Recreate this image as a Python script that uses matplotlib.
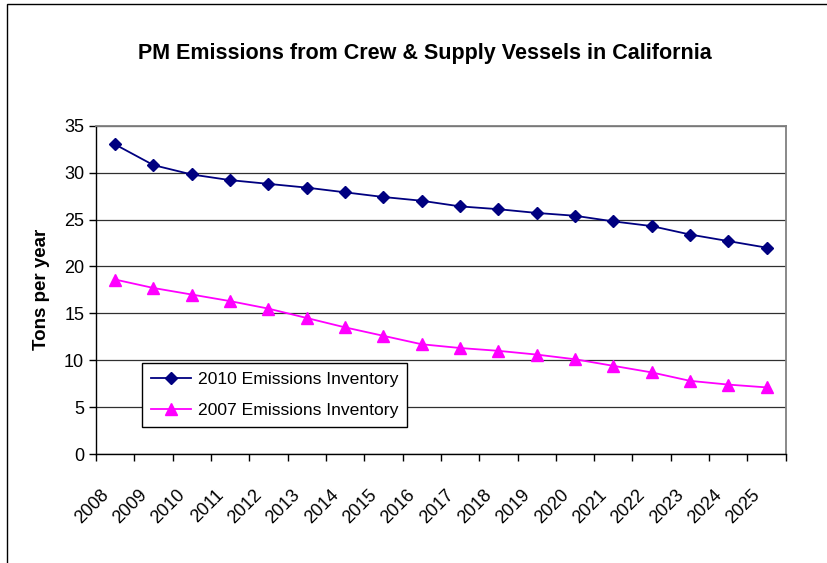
import matplotlib.pyplot as plt
from matplotlib.patches import Rectangle
from matplotlib.transforms import ScaledTranslation
import numpy as np

plt.rcParams['font.family'] = ['Liberation Sans', 'DejaVu Sans']

years = [str(y) for y in range(2008, 2026)]
inv_2010 = [33.0, 30.8, 29.8, 29.2, 28.8, 28.4, 27.9, 27.4, 27.0, 26.4,
            26.1, 25.7, 25.4, 24.8, 24.3, 23.4, 22.7, 22.0]
inv_2007 = [18.6, 17.7, 17.0, 16.3, 15.5, 14.5, 13.5, 12.6, 11.7, 11.3,
            11.0, 10.6, 10.1, 9.4, 8.7, 7.8, 7.4, 7.1]

fig = plt.figure(figsize=(8.28, 5.63), dpi=100)
ax = fig.add_axes([0.1159, 0.1936, 0.949 - 0.1159, 0.7767 - 0.1936])

# outer chart frame
fig.patches.append(Rectangle((7 / 828, -0.05), 1.0, 1.0 - 4 / 563 + 0.05,
                             transform=fig.transFigure, fill=False,
                             edgecolor='black', linewidth=1.0))

x = np.arange(len(years))
ax.plot(x, inv_2010, color='#000080', marker='D', markersize=6.5,
        linewidth=1.3, label='2010 Emissions Inventory', zorder=3)
ax.plot(x, inv_2007, color='#FF00FF', marker='^', markersize=8.5,
        linewidth=1.3, label='2007 Emissions Inventory', zorder=3)

ax.set_xlim(-0.5, len(years) - 0.5)
ax.set_ylim(0, 35)
ax.set_yticks(np.arange(0, 36, 5))
ax.yaxis.grid(True, color='#303030', linewidth=0.9)
ax.set_axisbelow(True)

# category boundaries get the tick marks, centers get the labels
ax.set_xticks(np.arange(-0.5, len(years), 1.0))
ax.set_xticklabels([])
ax.set_xticks(x, minor=True)
ax.set_xticklabels(years, minor=True, rotation=45, ha='right',
                   rotation_mode='anchor', fontsize=13)
ax.tick_params(axis='x', which='minor', length=0, pad=12)
ax.tick_params(axis='x', which='major', direction='out', length=5, width=1)
ax.tick_params(axis='y', direction='out', length=5, width=1, labelsize=13)

shift = ScaledTranslation(-15 / 100, -16 / 100, fig.dpi_scale_trans)
for lbl in ax.get_xticklabels(minor=True):
    lbl.set_transform(lbl.get_transform() + shift)

for side in ['top', 'right']:
    ax.spines[side].set_color('#808080')
    ax.spines[side].set_linewidth(1.3)
for side in ['left', 'bottom']:
    ax.spines[side].set_color('black')
    ax.spines[side].set_linewidth(1.0)

ax.set_ylabel('Tons per year', fontsize=13.5, fontweight='bold', labelpad=10)
fig.text(425 / 828, 1 - 53 / 563, 'PM Emissions from Crew & Supply Vessels in California',
         ha='center', va='center', fontsize=15.5, fontweight='bold')

leg = ax.legend(loc='lower left', bbox_to_anchor=((142 - 96) / 689.7, (454 - 427) / 328.3),
                fontsize=12.6, frameon=True, fancybox=False, edgecolor='black',
                framealpha=1, borderaxespad=0, handlelength=2.3, handletextpad=0.4,
                labelspacing=0.9, borderpad=0.5)
leg.get_frame().set_linewidth(1.0)

fig.savefig('out.png', dpi=100)
